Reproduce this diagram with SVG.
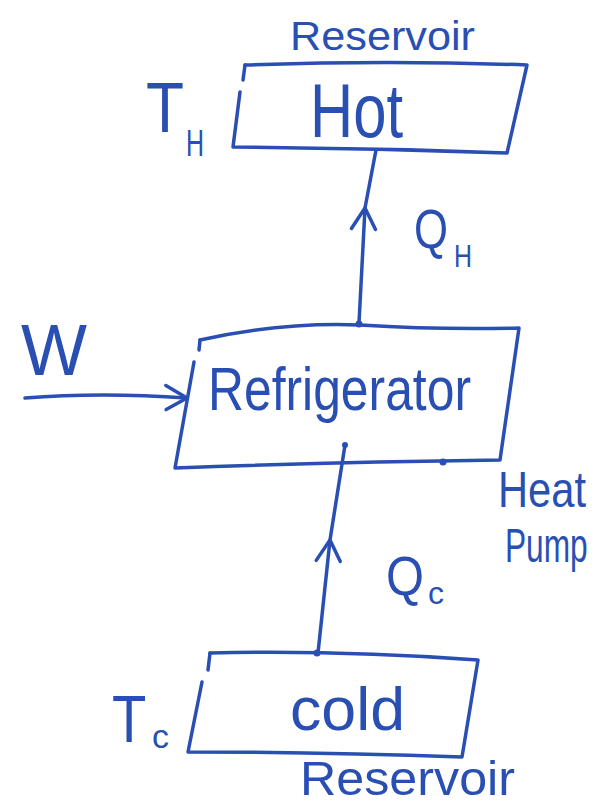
<svg xmlns="http://www.w3.org/2000/svg" width="602" height="809" viewBox="0 0 602 809">
<style>
  .ink { fill: none; stroke: #2a4fb3; stroke-width: 3.5; stroke-linecap: round; stroke-linejoin: round; }
  .t { fill: #2a4fb3; font-family: "Liberation Sans", "DejaVu Sans", sans-serif; }
  .dot { fill: #2a4fb3; }
</style>
<defs>
  <marker id="arr" markerUnits="userSpaceOnUse" markerWidth="40" markerHeight="40" refX="30" refY="20" orient="auto">
    <path d="M8,9 L30,20 L10,33" fill="none" stroke="#2a4fb3" stroke-width="3.5" stroke-linecap="round" stroke-linejoin="round"/>
  </marker>
</defs>
<rect width="602" height="809" fill="#ffffff"/>

<g id="hot-reservoir">
  <path class="ink" d="M245,65 Q390,60 527,65 L507,153 Q370,148 233,147 L240,92"/>
  <path class="ink" d="M245,65 L243,80"/>
  <text class="t" x="290" y="50" font-size="40" textLength="185" lengthAdjust="spacingAndGlyphs">Reservoir</text>
  <text class="t" x="310" y="137" font-size="76" textLength="93" lengthAdjust="spacingAndGlyphs">Hot</text>
  <text class="t" x="146" y="132" font-size="70" textLength="38" lengthAdjust="spacingAndGlyphs">T</text>
  <text class="t" x="186" y="156" font-size="36" textLength="18" lengthAdjust="spacingAndGlyphs">H</text>
</g>

<g id="refrigerator">
  <path class="ink" d="M200,340 Q280,322 360,325 Q440,330 519,328 L500,460 Q340,462 175,468 L194,362"/>
  <path class="ink" d="M200,340 L199,350"/>
  <text class="t" x="208" y="410" font-size="62" textLength="263" lengthAdjust="spacingAndGlyphs">Refrigerator</text>
  <text class="t" x="498" y="507" font-size="50" textLength="88" lengthAdjust="spacingAndGlyphs">Heat</text>
  <text class="t" transform="translate(505,562) scale(0.66,1)" font-size="48">Pump</text>
</g>

<g id="cold-reservoir">
  <path class="ink" d="M210,653 Q340,650 478,660 L462,757 Q320,752 188,752 L202,682"/>
  <path class="ink" d="M210,653 L208,670"/>
  <text class="t" x="290" y="730" font-size="62" textLength="115" lengthAdjust="spacingAndGlyphs">cold</text>
  <text class="t" transform="translate(112,742) scale(0.85,1)" font-size="66">T</text>
  <text class="t" x="152" y="748" font-size="34">c</text>
  <text class="t" x="300" y="795" font-size="48" textLength="215" lengthAdjust="spacingAndGlyphs">Reservoir</text>
</g>

<g id="labels">
  <text class="t" x="21" y="375" font-size="72" textLength="66" lengthAdjust="spacingAndGlyphs">W</text>
  <text class="t" x="414" y="248" font-size="56" textLength="34" lengthAdjust="spacingAndGlyphs">Q</text>
  <text class="t" x="454" y="267" font-size="32" textLength="18" lengthAdjust="spacingAndGlyphs">H</text>
  <text class="t" x="386" y="595" font-size="56" textLength="38" lengthAdjust="spacingAndGlyphs">Q</text>
  <text class="t" x="428" y="604" font-size="32">c</text>
</g>

<g id="connectors">
  <path class="ink" d="M359,323 L365,208 L376,150" marker-mid="url(#arr)"/>
  <path class="ink" d="M25,398 Q100,392 187,398" marker-end="url(#arr)"/>
  <path class="ink" d="M318,653 L330,540 L345,445" marker-mid="url(#arr)"/>
  <circle class="dot" cx="359" cy="324" r="3.5"/>
  <circle class="dot" cx="317" cy="653" r="3.5"/>
  <circle class="dot" cx="443" cy="462" r="3.5"/>
  <circle class="dot" cx="345" cy="445" r="3"/>
</g>
</svg>
